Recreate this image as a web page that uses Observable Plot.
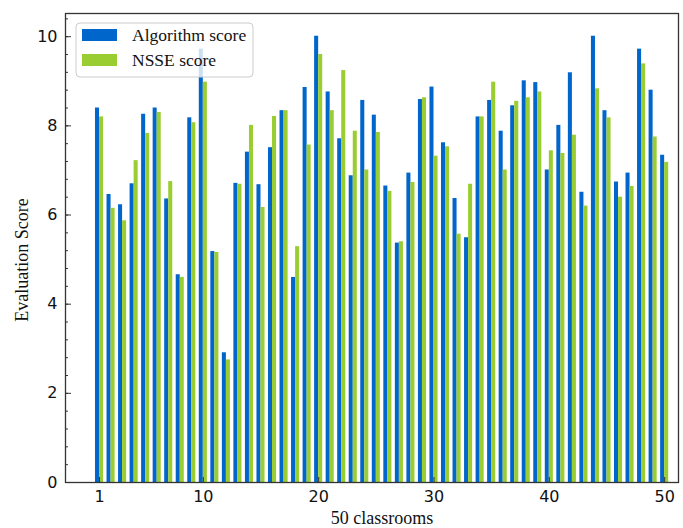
<!DOCTYPE html>
<html>
<head>
<meta charset="utf-8">
<script src="https://cdn.jsdelivr.net/npm/d3@7"></script>
<script src="https://cdn.jsdelivr.net/npm/@observablehq/plot@0.6"></script>
<style>
  html, body { margin: 0; padding: 0; background: #fff; }
  #chart svg { display: block; }
</style>
</head>
<body>
<div id="chart"></div>
<script>
const classrooms = d3.range(1, 51);
const seriesNames = ["Algorithm score", "NSSE score"];
const seriesColors = ["#0066cc", "#9acd32"];
const algorithmScores = [8.40,6.46,6.23,6.70,8.26,8.40,6.36,4.66,8.18,9.72,
  5.18,2.91,6.71,7.41,6.68,7.51,8.34,4.60,8.86,10.01,
  8.76,7.71,6.88,8.57,8.24,6.65,5.37,6.94,8.59,8.87,
  7.62,6.37,5.49,8.20,8.57,7.88,8.45,9.01,8.97,7.01,
  8.01,9.19,6.51,10.01,8.34,6.74,6.94,9.72,8.80,7.34];
const nsseScores = [8.20,6.15,5.87,7.22,7.83,8.30,6.75,4.60,8.07,8.98,
  5.16,2.75,6.69,8.01,6.17,8.21,8.34,5.29,7.57,9.60,
  8.34,9.24,7.88,7.01,7.85,6.53,5.40,6.73,8.63,7.32,
  7.53,5.57,6.69,8.20,8.98,7.01,8.55,8.63,8.76,7.44,
  7.38,7.79,6.20,8.83,8.18,6.40,6.64,9.39,7.75,7.18];
const xTicks = [1, 10, 20, 30, 40, 50];
const yTicks = [0, 2, 4, 6, 8, 10];
const yMinorTicks = d3.range(0, 10.41, 0.4);
const xLabel = "50 classrooms";
const yLabel = "Evaluation Score";

const barW = 0.35;
const rows = [];
classrooms.forEach((c, i) => {
  rows.push({c, s: seriesNames[0], v: algorithmScores[i], x1: c - barW, x2: c});
  rows.push({c, s: seriesNames[1], v: nsseScores[i], x1: c, x2: c + barW});
});

const sans = "DejaVu Sans, sans-serif";
const serif = "Liberation Serif, Times New Roman, serif";

const plot = Plot.plot({
  width: 683,
  height: 528,
  marginLeft: 65,
  marginRight: 5,
  marginTop: 13,
  marginBottom: 46,
  style: {background: "#fff", fontFamily: sans, fontSize: "16px", color: "#111"},
  x: {type: "linear", domain: [-1.95, 51.2]},
  y: {domain: [0, 10.52]},
  color: {domain: seriesNames, range: seriesColors},
  marks: [
    Plot.rectY(rows, {x1: "x1", x2: "x2", y: "v", fill: "s"}),
    Plot.frame({stroke: "#333", strokeWidth: 1.3}),
    Plot.axisY(yTicks, {tickSize: 0, tickPadding: 8, fontSize: 16, label: null, fontFamily: sans}),
    Plot.axisY(yTicks, {tickSize: -6, text: null, label: null, stroke: "#333"}),
    Plot.axisY(yMinorTicks, {tickSize: -3, text: null, label: null, stroke: "#333"}),
    Plot.axisX(xTicks, {tickSize: 0, tickPadding: 8, fontSize: 16, label: null, fontFamily: sans}),
    Plot.axisX(xTicks, {tickSize: -5, text: null, label: null, stroke: "#333"}),
    Plot.text([xLabel], {frameAnchor: "bottom", textAnchor: "middle", lineAnchor: "middle", dx: 10, dy: 36, fontFamily: serif, fontSize: 18, fill: "#111"}),
    Plot.text([yLabel], {frameAnchor: "left", textAnchor: "middle", lineAnchor: "middle", rotate: -90, dx: -43, dy: 12, fontFamily: serif, fontSize: 18, fill: "#111"})
  ]
});
document.getElementById("chart").appendChild(plot);

// legend inside the plot area
const svg = d3.select(plot);
const lg = svg.append("g").attr("transform", "translate(76,23)");
lg.append("rect").attr("width", 177).attr("height", 54).attr("rx", 4)
  .attr("fill", "#fff").attr("fill-opacity", 0.8).attr("stroke", "#cccccc");
seriesNames.forEach((name, i) => {
  lg.append("rect").attr("x", 6).attr("y", 6 + i * 25).attr("width", 35).attr("height", 12)
    .attr("fill", seriesColors[i]);
  lg.append("text").attr("x", 56).attr("y", 18 + i * 25).attr("text-anchor", "start")
    .attr("font-family", serif).attr("font-size", 17.5).attr("fill", "#111").text(name);
});
</script>
</body>
</html>
